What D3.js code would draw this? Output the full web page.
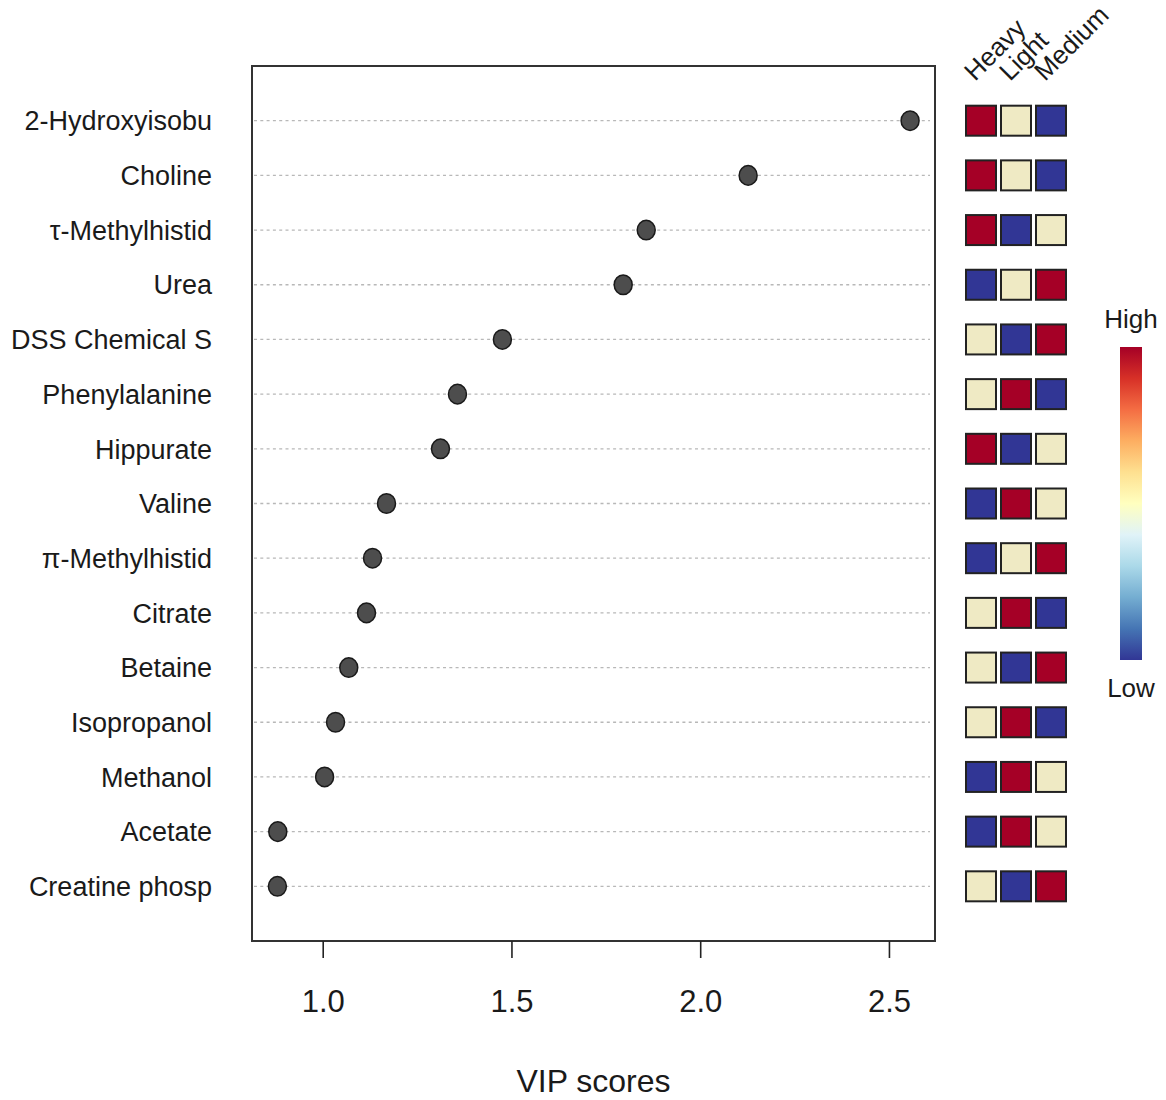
<!DOCTYPE html>
<html>
<head>
<meta charset="utf-8">
<script src="https://cdn.jsdelivr.net/npm/d3@7"></script>
<style>
  html, body { margin: 0; padding: 0; background: #fff; }
  svg text { font-family: "Liberation Sans", Arial, sans-serif; fill: #1a1a1a; }
</style>
</head>
<body>
<svg id="chart" width="1166" height="1100"></svg>
<script>
// ---- data ----
const features = ["2-Hydroxyisobu", "Choline", "\u03C4-Methylhistid", "Urea", "DSS Chemical S",
  "Phenylalanine", "Hippurate", "Valine", "\u03C0-Methylhistid", "Citrate", "Betaine",
  "Isopropanol", "Methanol", "Acetate", "Creatine phosp"];
const vipScores = [2.556, 2.127, 1.857, 1.796, 1.476, 1.357, 1.312, 1.169, 1.132, 1.116,
  1.069, 1.034, 1.005, 0.881, 0.880];
const groups = ["Heavy", "Light", "Medium"];
// relative level within each feature: 3 = high, 2 = middle, 1 = low
const heavyLevel  = [3, 3, 3, 1, 2, 2, 3, 1, 1, 2, 2, 2, 1, 1, 2];
const lightLevel  = [2, 2, 1, 2, 1, 3, 1, 3, 2, 3, 1, 3, 3, 3, 1];
const mediumLevel = [1, 1, 2, 3, 3, 1, 2, 2, 3, 1, 3, 1, 2, 2, 3];
const xTicks = [1.0, 1.5, 2.0, 2.5];
const xTitle = "VIP scores";
const legendLabels = ["High", "Low"];
// RdYlBu (10), ordered low -> high, used for the cells
const palette = ["#313695", "#4575b4", "#74add1", "#abd9e9", "#e0f3f8",
  "#fee090", "#fdae61", "#f46d43", "#d73027", "#a50026"];
// RdYlBu (11), ordered low -> high, used for the legend bar
const legendPalette = ["#313695", "#4575b4", "#74add1", "#abd9e9", "#e0f3f8", "#ffffbf",
  "#fee090", "#fdae61", "#f46d43", "#d73027", "#a50026"];

// ---- layout ----
const svg = d3.select("#chart");
const box = { left: 252, right: 935, top: 66, bottom: 941 };
const x = d3.scaleLinear().domain([0.8127, 2.622]).range([box.left, box.right]);
const y = d3.scaleLinear().domain([0, features.length + 1]).range([box.top, box.bottom]);
const rowY = i => y(i + 1);

// dotted guide lines
svg.append("g").selectAll("line").data(features).join("line")
  .attr("x1", box.left + 2).attr("x2", box.right - 5)
  .attr("y1", (d, i) => rowY(i)).attr("y2", (d, i) => rowY(i))
  .attr("stroke", "#b8b8b8").attr("stroke-width", 1.3)
  .attr("stroke-dasharray", "3,3.3");

// box
svg.append("rect")
  .attr("x", box.left).attr("y", box.top)
  .attr("width", box.right - box.left).attr("height", box.bottom - box.top)
  .attr("fill", "none").attr("stroke", "#333").attr("stroke-width", 2);

// x axis
const xAxis = d3.axisBottom(x).tickValues(xTicks).tickFormat(d3.format(".1f"))
  .tickSize(17).tickPadding(32);
const gx = svg.append("g").attr("transform", `translate(0,${box.bottom})`).call(xAxis);
gx.select(".domain").remove();
gx.selectAll(".tick line").attr("stroke", "#222").attr("stroke-width", 1.6);
gx.selectAll(".tick text").attr("font-size", 31).attr("fill", "#1a1a1a")
  .attr("font-family", '"Liberation Sans", Arial, sans-serif');

svg.append("text").attr("x", (box.left + box.right) / 2).attr("y", 1092)
  .attr("text-anchor", "middle").attr("font-size", 32).text(xTitle);

// feature labels
svg.append("g").selectAll("text").data(features).join("text")
  .attr("x", 212).attr("y", (d, i) => rowY(i)).attr("dy", "0.36em")
  .attr("text-anchor", "end").attr("font-size", 27).text(d => d);

// dots
svg.append("g").selectAll("ellipse").data(vipScores).join("ellipse")
  .attr("cx", d => x(d)).attr("cy", (d, i) => rowY(i))
  .attr("rx", 9).attr("ry", 9.8)
  .attr("fill", "#4d4d4d").attr("stroke", "#1a1a1a").attr("stroke-width", 1.5);

// heat squares
const color = d3.scaleLinear().domain(d3.range(10).map(i => i / 9)).range(palette);
const levelColor = lv => color((lv - 1) / 2);
const colX = d3.scalePoint().domain(groups).range([981, 1051]);
const levels = [heavyLevel, lightLevel, mediumLevel];
const sq = 30;
groups.forEach((g, gi) => {
  svg.append("g").selectAll("rect").data(levels[gi]).join("rect")
    .attr("x", colX(g) - sq / 2).attr("y", (d, i) => rowY(i) - sq / 2)
    .attr("width", sq).attr("height", sq)
    .attr("fill", d => levelColor(d)).attr("stroke", "#222").attr("stroke-width", 2);
});

// group headers
svg.append("g").selectAll("text").data(groups).join("text")
  .attr("transform", g => `translate(${colX(g) - 6},${82}) rotate(-45)`)
  .attr("font-size", 26).text(d => d);

// color legend
const defs = svg.append("defs");
const grad = defs.append("linearGradient").attr("id", "legendGrad")
  .attr("x1", 0).attr("y1", 1).attr("x2", 0).attr("y2", 0);
legendPalette.forEach((c, i) => grad.append("stop")
  .attr("offset", i / (legendPalette.length - 1)).attr("stop-color", c));
svg.append("rect").attr("x", 1120).attr("y", 347).attr("width", 22).attr("height", 313)
  .attr("fill", "url(#legendGrad)");
svg.append("text").attr("x", 1131).attr("y", 328).attr("text-anchor", "middle")
  .attr("font-size", 26).text(legendLabels[0]);
svg.append("text").attr("x", 1131).attr("y", 697).attr("text-anchor", "middle")
  .attr("font-size", 26).text(legendLabels[1]);
</script>
</body>
</html>
